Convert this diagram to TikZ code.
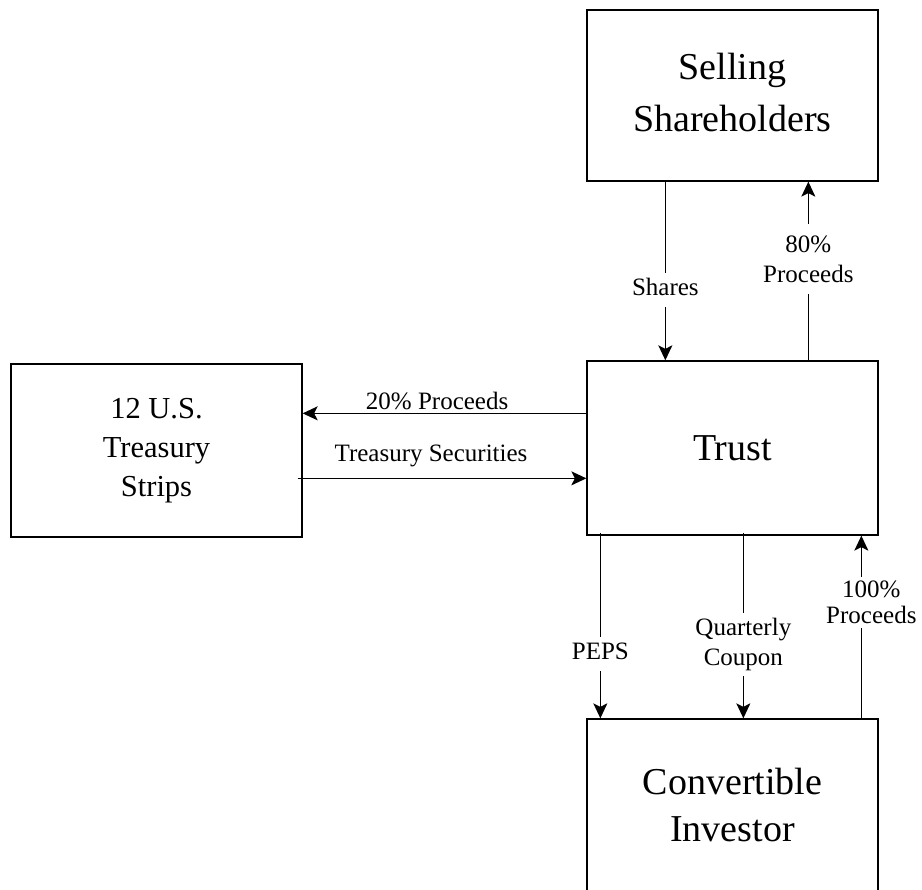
\documentclass[tikz,border=0pt]{standalone}
\usepackage{fontspec}
\setmainfont{Liberation Serif}
\usetikzlibrary{arrows.meta,calc}

\begin{document}
\begin{tikzpicture}[x=1pt,y={(0pt,-1pt)},
  box/.style={draw, line width=1.3pt, minimum width=291pt, inner sep=0pt, align=center},
  arr/.style={line width=1.3pt, -{Stealth[length=15pt,width=14pt,inset=3.5pt]}},
  lbl/.style={font=\fontsize{25}{30}\selectfont, align=center, text height=21pt,
              text depth=9pt, inner sep=2pt, fill=white},
  lblm/.style={font=\fontsize{25}{30}\selectfont, align=center, inner xsep=2pt, fill=white}]
\useasboundingbox (0,0) rectangle (922,890);
\clip (0,0) rectangle (922,890);

% parties
\node[box, minimum height=171pt, font=\fontsize{38}{52}\selectfont] (sell) at (732.5,95.5) {Selling\\Shareholders\rule[-7pt]{0pt}{7pt}};
\node[box, minimum height=174pt, font=\fontsize{38}{50}\selectfont] (trust) at (732.5,448) {Trust};
\node[box, minimum height=173pt, font=\fontsize{30.5}{39}\selectfont] (strips) at (156.5,450.5) {12 U.S.\\Treasury\\Strips};
\node[box, minimum height=172pt, font=\fontsize{38}{47}\selectfont] (inv) at (732.5,805) {Convertible\\Investor};

% flows between shareholders and trust
\draw[arr] ($(sell.south west)+(79,0)$) -- node[lbl,pos=0.605]{Shares} ($(trust.north west)+(79,0)$);
\draw[arr] ($(trust.north west)+(222,0)$) -- node[lblm,inner ysep=12pt,pos=0.567]{80\%\\Proceeds} ($(sell.south west)+(222,0)$);

% flows between trust and treasury strips
\draw[arr] ($(trust.north west)+(0,53)$) -- node[lbl,fill=none,anchor=base,pos=0.526,yshift=4pt]{20\% Proceeds} ($(strips.north east)+(0,50)$);
\draw[arr] ($(strips.north east)+(-5,115)$) -- node[lbl,fill=none,anchor=base,pos=0.462,yshift=17pt]{Treasury Securities} ($(trust.north west)+(0,118)$);

% flows between trust and investor
\draw[arr] ($(trust.south west)+(14,-3)$) -- node[lbl,pos=0.652]{PEPS} ($(inv.north west)+(14,0)$);
\draw[arr] ($(trust.south west)+(157,-3)$) -- node[lblm,inner ysep=5pt,pos=0.602]{Quarterly\\Coupon} ($(inv.north west)+(157,0)$);
\draw[arr] ($(inv.north west)+(275,0)$) -- node[lblm,font=\fontsize{25}{26}\selectfont,inner ysep=4pt,pos=0.633,xshift=10pt]{100\%\\Proceeds} ($(trust.south west)+(275,0)$);
\end{tikzpicture}
\end{document}
